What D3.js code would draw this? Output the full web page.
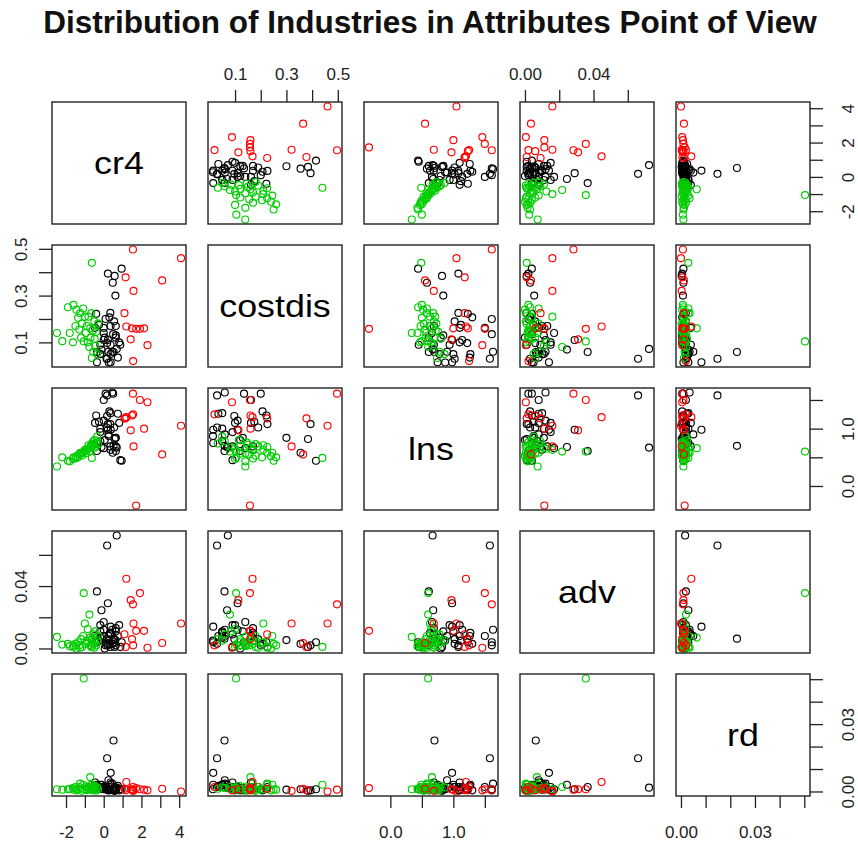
<!DOCTYPE html>
<html><head><meta charset="utf-8">
<script src="https://cdn.jsdelivr.net/npm/d3@7"></script>
<style>body{margin:0;background:#fff}svg{display:block}</style>
</head><body><svg id="chart" width="858" height="843"></svg>
<script>
// ---------- data ----------
const varNames = ["cr4", "costdis", "lns", "adv", "rd"];

// black group (42), green group (34), red group (14)
const cr4 = [
  0.95, 0.22, 0.58, 0.48, 0.62, 0.35, -0.40, -0.36, 0.22, -0.12, 0.69, 0.18, 0.52, 0.37,
  0.10, 0.50, 0.00, 0.36, 0.18, 0.00, 0.30, -0.46, -0.18, -0.18, 0.27, 0.64, 0.64, 0.36,
  -0.18, -0.36, 0.00, 0.36, 0.64, 0.88, 0.75, 0.45, 0.15, -0.25, 0.05, 0.82, 0.25, 0.55,
  -2.48, -2.20, -1.63, -1.50, -1.45, -1.36, -1.30, -1.20, -1.15, -1.09, -1.06, -1.00,
  -0.95, -0.90, -0.85, -0.81, -0.76, -0.72, -0.70, -0.66, -0.63, -0.63, -0.58, -0.55,
  -0.50, -0.48, -0.45, -0.40, -0.35, -0.30, -1.80, -1.25, -1.60, -1.90,
  4.10, 3.10, 2.32, 2.14, 1.92, 1.72, 1.50, 1.56, 1.43, 1.58, 1.55, 1.20, 1.10, 1.16
];
const costdis = [
  0.415, 0.394, 0.384, 0.355, 0.300, 0.226, 0.222, 0.059, 0.110, 0.069, 0.072, 0.030, 0.059, 0.015,
  0.200, 0.135, 0.162, 0.050, 0.097, 0.110, 0.207, 0.162, 0.050, 0.090, 0.014, 0.130, 0.170, 0.090,
  0.050, 0.015, 0.140, 0.170, 0.120, 0.090, 0.035, 0.060, 0.030, 0.175, 0.120, 0.100, 0.060, 0.190,
  0.140, 0.105, 0.100, 0.170, 0.240, 0.205, 0.155, 0.120, 0.180, 0.245, 0.104, 0.210,
  0.140, 0.170, 0.100, 0.210, 0.080, 0.160, 0.120, 0.225, 0.440, 0.033, 0.150, 0.060,
  0.190, 0.115, 0.085, 0.145, 0.050, 0.180, 0.140, 0.225, 0.260, 0.250,
  0.460, 0.365, 0.088, 0.160, 0.158, 0.158, 0.160, 0.020, 0.113, 0.320, 0.497, 0.168, 0.225, 0.378
];
const lns = [
  0.44, 1.08, 0.82, 0.58, 0.84, 1.08, 1.23, 0.61, 0.98, 0.68, 0.67, 1.58, 0.70, 0.98,
  1.61, 1.61, 1.50, 1.27, 1.22, 1.14, 1.30, 1.10, 1.00, 0.94, 0.87, 0.84, 0.69, 0.69,
  0.78, 0.75, 0.66, 0.63, 0.61, 0.45, 1.26, 1.63, 1.02, 1.12, 0.80, 1.10, 0.90, 1.02,
  0.34, 0.50, 0.47, 0.48, 0.52, 0.50, 0.55, 0.56, 0.53, 0.58, 0.60, 0.63,
  0.57, 0.62, 0.65, 0.71, 0.60, 0.66, 0.70, 0.68, 0.49, 0.74, 0.72, 0.78,
  0.69, 0.80, 0.67, 0.76, 0.86, 0.73, 0.43, 0.58, 0.50, 0.44,
  1.05, 0.55, 1.46, 1.00, 1.50, -0.34, 1.23, 1.25, 0.97, 0.69, 1.61, 1.20, 1.18, 1.18
];
const adv = [
  0.0040, 0.0020, 0.0010, 0.0030, 0.0054, 0.0010, 0.0040, 0.0366, 0.0290, 0.0245, 0.0724, 0.0660, 0.0063, 0.0140,
  0.0020, 0.0040, 0.0080, 0.0100, 0.0060, 0.0120, 0.0030, 0.0080, 0.0110, 0.0150, 0.0050, 0.0110, 0.0130, 0.0090,
  0.0070, 0.0040, 0.0170, 0.0100, 0.0020, 0.0010, 0.0080, 0.0120, 0.0030, 0.0050, 0.0000, 0.0150, 0.0080, 0.0060,
  0.0074, 0.0025, 0.0010, 0.0030, 0.0000, 0.0040, 0.0020, 0.0060, 0.0010, 0.0080, 0.0355, 0.0160,
  0.0030, 0.0050, 0.0125, 0.0040, 0.0217, 0.0070, 0.0020, 0.0010, 0.0010, 0.0060, 0.0030, 0.0090,
  0.0005, 0.0040, 0.0110, 0.0020, 0.0050, 0.0080, 0.0015, 0.0005, 0.0020, 0.0030,
  0.0160, 0.0035, 0.0005, 0.0113, 0.0355, 0.0113, 0.0060, 0.0020, 0.0310, 0.0160, 0.0283, 0.0447, 0.0091, 0.0010
];
const rd = [
  0.0010, 0.0005, 0.0003, 0.0010, 0.0008, 0.0020, 0.0010, 0.0020, 0.0010, 0.0030, 0.0017, 0.0148, 0.0227, 0.0083,
  0.0010, 0.0005, 0.0020, 0.0030, 0.0010, 0.0020, 0.0005, 0.0040, 0.0030, 0.0020, 0.0010, 0.0015, 0.0010, 0.0040,
  0.0020, 0.0030, 0.0010, 0.0008, 0.0005, 0.0010, 0.0025, 0.0035, 0.0020, 0.0010, 0.0015, 0.0005, 0.0050, 0.0020,
  0.0010, 0.0008, 0.0015, 0.0020, 0.0005, 0.0010, 0.0020, 0.0012, 0.0003, 0.0030, 0.0503, 0.0010,
  0.0022, 0.0006, 0.0018, 0.0010, 0.0020, 0.0064, 0.0009, 0.0030, 0.0030, 0.0012, 0.0005, 0.0015,
  0.0020, 0.0025, 0.0010, 0.0004, 0.0018, 0.0010, 0.0012, 0.0035, 0.0008, 0.0010,
  0.0000, 0.0012, 0.0005, 0.0008, 0.0010, 0.0015, 0.0005, 0.0020, 0.0010, 0.0003, 0.0008, 0.0042, 0.0012, 0.0006
];
const group = [].concat(
  Array(42).fill("black"), Array(34).fill("green"), Array(14).fill("red")
);
const groupNames = ["black", "green", "red"];
const groupColors = ["#000000", "#00cd00", "#ff0000"];

// axis ticks and labelled ticks (R omits overlapping labels)
const cr4Ticks = [-2, -1, 0, 1, 2, 3, 4];
const cr4LabelValues = [-2, 0, 2, 4];
const cr4LabelText = ["-2", "0", "2", "4"];
const costdisTicks = [0.1, 0.2, 0.3, 0.4, 0.5];
const costdisLabelValues = [0.1, 0.3, 0.5];
const costdisLabelText = ["0.1", "0.3", "0.5"];
const lnsTicks = [0.0, 0.5, 1.0, 1.5];
const lnsLabelValues = [0.0, 1.0];
const lnsLabelText = ["0.0", "1.0"];
const advTicks = [0.00, 0.02, 0.04, 0.06];
const advLabelValues = [0.00, 0.04];
const advLabelText = ["0.00", "0.04"];
const rdTicks = [0.00, 0.01, 0.02, 0.03, 0.04, 0.05];
const rdLabelValues = [0.00, 0.03];
const rdLabelText = ["0.00", "0.03"];

const titleText = "Distribution of Industries in Attributes Point of View";

// ---------- drawing ----------
const columns = [cr4, costdis, lns, adv, rd];
const tickSets = [cr4Ticks, costdisTicks, lnsTicks, advTicks, rdTicks];
const labelValueSets = [cr4LabelValues, costdisLabelValues, lnsLabelValues, advLabelValues, rdLabelValues];
const labelTextSets = [cr4LabelText, costdisLabelText, lnsLabelText, advLabelText, rdLabelText];

const svg = d3.select("#chart");
const FONT = "'Liberation Sans', Arial, Helvetica, sans-serif";
const left0 = 52, top0 = 102, stepX = 156, stepY = 143, pw = 134, ph = 122;
const nV = varNames.length;

const color = d3.scaleOrdinal().domain(groupNames).range(groupColors);

const sx = [], sy = [];
columns.forEach((col, k) => {
  const ext = d3.extent(col);
  const pad = (ext[1] - ext[0]) * 0.04;
  const dom = [ext[0] - pad, ext[1] + pad];
  sx.push(d3.scaleLinear().domain(dom).range([left0 + k * stepX, left0 + k * stepX + pw]));
  sy.push(d3.scaleLinear().domain(dom).range([top0 + k * stepY + ph, top0 + k * stepY]));
});

const idx = d3.range(cr4.length);

// title
svg.append("text")
  .attr("x", 430).attr("y", 33)
  .attr("text-anchor", "middle")
  .attr("font-family", FONT).attr("font-weight", "bold")
  .attr("font-size", 31.5).attr("fill", "#111")
  .text(titleText);

for (let i = 0; i < nV; i++) {
  for (let j = 0; j < nV; j++) {
    const x0 = left0 + j * stepX, y0 = top0 + i * stepY;
    const g = svg.append("g");
    if (i === j) {
      g.append("text")
        .attr("font-family", FONT).attr("font-size", 32).attr("fill", "#000")
        .attr("text-anchor", "middle")
        .attr("transform", `translate(${x0 + pw / 2},${y0 + ph / 2 + 11}) scale(1.12,1)`)
        .text(varNames[i]);
    } else {
      g.selectAll("circle").data(idx).join("circle")
        .attr("cx", d => sx[j](columns[j][d]))
        .attr("cy", d => sy[i](columns[i][d]))
        .attr("r", 3.5)
        .attr("fill", "none")
        .attr("stroke", d => color(group[d]))
        .attr("stroke-width", 1.15);
    }
    g.append("rect")
      .attr("x", x0).attr("y", y0).attr("width", pw).attr("height", ph)
      .attr("fill", "none").attr("stroke", "#222").attr("stroke-width", 1.4);
  }
}

// axes
function styleAxis(sel) {
  sel.select(".domain").remove();
  sel.selectAll(".tick line").attr("stroke", "#222").attr("stroke-width", 1.3);
  sel.selectAll(".tick text").attr("font-family", FONT).attr("font-size", 17).attr("fill", "#222");
}
varNames.forEach((v, k) => {
  const ticks = tickSets[k];
  const fmt = d => {
    const p = labelValueSets[k].indexOf(d);
    return p >= 0 ? labelTextSets[k][p] : "";
  };
  if (k % 2 === 0) {
    const gB = svg.append("g")
      .attr("transform", `translate(0,${top0 + (nV - 1) * stepY + ph})`)
      .call(d3.axisBottom(sx[k]).tickValues(ticks).tickSize(12).tickFormat(fmt));
    styleAxis(gB);
    gB.selectAll(".tick text").attr("y", 36).attr("dy", "0.35em");
    const gR = svg.append("g")
      .attr("transform", `translate(${left0 + (nV - 1) * stepX + pw},0)`)
      .call(d3.axisRight(sy[k]).tickValues(ticks).tickSize(13).tickFormat(fmt));
    styleAxis(gR);
    gR.selectAll(".tick text").attr("x", 0).attr("y", 0).attr("dy", "0.35em")
      .attr("text-anchor", "middle").attr("transform", "translate(38,0) rotate(-90)");
  } else {
    const gT = svg.append("g")
      .attr("transform", `translate(0,${top0})`)
      .call(d3.axisTop(sx[k]).tickValues(ticks).tickSize(12).tickFormat(fmt));
    styleAxis(gT);
    gT.selectAll(".tick text").attr("y", -28).attr("dy", "0.35em");
    const gL = svg.append("g")
      .attr("transform", `translate(${left0},0)`)
      .call(d3.axisLeft(sy[k]).tickValues(ticks).tickSize(13).tickFormat(fmt));
    styleAxis(gL);
    gL.selectAll(".tick text").attr("x", 0).attr("y", 0).attr("dy", "0.35em")
      .attr("text-anchor", "middle").attr("transform", "translate(-31,0) rotate(-90)");
  }
});
</script>
</body></html>
